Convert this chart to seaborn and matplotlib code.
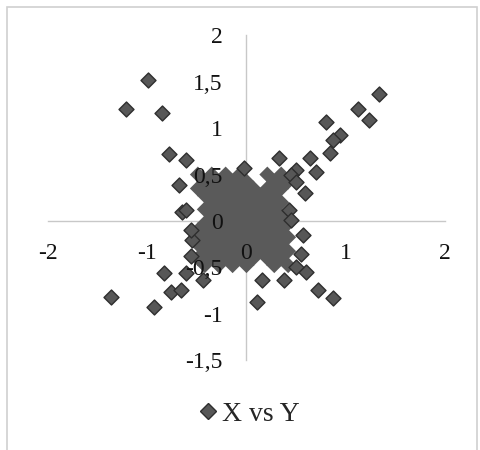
import pandas as pd
import seaborn as sns
import matplotlib.pyplot as plt
from matplotlib.patches import Rectangle
from matplotlib.lines import Line2D

# -----------------------------
# Data
# -----------------------------
# scattered points around the central blob
outer_x = [-0.99, -1.21, -0.85, -0.78, -0.61, -0.68, -0.65, -0.61,
           1.34, 1.12, 1.23, 0.80, 0.94, 0.87, 0.84, 0.64, 0.70, 0.59, 0.43,
           0.33, -0.02, 0.50, 0.45, 0.50,
           0.57, 0.55, 0.60, 0.72, 0.87, 0.16, 0.38, 0.11, 0.45, 0.50,
           -0.83, -0.61, -0.76, -0.66, -0.93, -1.37, -0.44, -0.55, -0.56, -0.56]
outer_y = [1.52, 1.21, 1.16, 0.72, 0.66, 0.39, 0.10, 0.12,
           1.37, 1.21, 1.09, 1.07, 0.92, 0.87, 0.73, 0.68, 0.53, 0.30, 0.12,
           0.68, 0.57, 0.55, 0.50, 0.42,
           -0.15, -0.35, -0.55, -0.74, -0.83, -0.63, -0.63, -0.87, 0.01, -0.49,
           -0.56, -0.56, -0.76, -0.74, -0.92, -0.82, -0.63, -0.20, -0.10, -0.38]

# dense cloud in the middle, row by row
blob_x = [-0.49, -0.35, -0.21, -0.07, 0.21, 0.35,                 # y 0.50
          -0.42, -0.28, -0.14, 0.00, 0.28, 0.42,                  # y 0.425
          -0.49, -0.35, -0.21, -0.07, 0.07, 0.21, 0.35,           # y 0.35
          -0.42, -0.28, -0.14, 0.00, 0.14, 0.28,                  # y 0.275
          -0.35, -0.21, -0.07, 0.07, 0.21, 0.35,                  # y 0.20
          -0.42, -0.28, -0.14, 0.00, 0.14, 0.28,                  # y 0.125
          -0.35, -0.21, -0.07, 0.07, 0.21, 0.35,                  # y 0.05
          -0.42, -0.28, -0.14, 0.00, 0.14, 0.28, 0.42,            # y -0.025
          -0.49, -0.35, -0.21, -0.07, 0.07, 0.21, 0.35,           # y -0.10
          -0.42, -0.28, -0.14, 0.00, 0.14, 0.28, 0.42,            # y -0.175
          -0.49, -0.35, -0.21, -0.07, 0.07, 0.21, 0.35,           # y -0.25
          -0.42, -0.28, -0.14, 0.00, 0.14, 0.28, 0.42,            # y -0.325
          -0.49, -0.35, -0.21, -0.07, 0.07, 0.21, 0.35,           # y -0.40
          -0.42, -0.28, -0.14, 0.00, 0.28, 0.42]                  # y -0.475
blob_y = ([0.50] * 6 + [0.425] * 6 + [0.35] * 7 + [0.275] * 6 +
          [0.20] * 6 + [0.125] * 6 + [0.05] * 6 + [-0.025] * 7 +
          [-0.10] * 7 + [-0.175] * 7 + [-0.25] * 7 + [-0.325] * 7 +
          [-0.40] * 7 + [-0.475] * 6)

x_ticks = [-2, -1, 0, 1, 2]
x_labels = ['-2', '-1', '0', '1', '2']
y_ticks = [-1.5, -1, -0.5, 0, 0.5, 1, 1.5, 2]
y_labels = ['-1,5', '-1', '-0,5', '0', '0,5', '1', '1,5', '2']

outer = pd.DataFrame({'X': outer_x, 'Y': outer_y})
blob = pd.DataFrame({'X': blob_x, 'Y': blob_y})

# -----------------------------
# Styling
# -----------------------------
sns.set_style("white")
plt.rcParams['font.family'] = ['Liberation Serif', 'DejaVu Serif']

fig = plt.figure(figsize=(4.8, 4.5), dpi=100)
ax = fig.add_axes([0.1, 0.199, 0.827, 0.723])

marker_face = '#575757'
marker_edge = '#2e2e2e'
# the overlapping cloud reads as one flat grey shape, so no edges there
sns.scatterplot(data=blob, x='X', y='Y', marker='D', s=66,
                color='#5a5a5a', edgecolor='none', linewidth=0,
                ax=ax, legend=False, zorder=2)
sns.scatterplot(data=outer, x='X', y='Y', marker='D', s=58,
                color=marker_face, edgecolor=marker_edge, linewidth=1.0,
                ax=ax, legend=False, zorder=2)

ax.set_xlim(-2, 2)
ax.set_ylim(-1.5, 2)
ax.set_xticks(x_ticks)
ax.set_xticklabels(x_labels)
ax.set_yticks(y_ticks)
ax.set_yticklabels(y_labels)
ax.set_xlabel('')
ax.set_ylabel('')
ax.set_axisbelow(False)  # tick labels are drawn over the markers

# axes crossing at the origin, Excel style
for side in ['top', 'right']:
    ax.spines[side].set_visible(False)
ax.spines['left'].set_position(('data', 0))
ax.spines['bottom'].set_position(('data', 0))
for side in ['left', 'bottom']:
    ax.spines[side].set_color('#c8c8c8')
    ax.spines[side].set_linewidth(1.0)
    ax.spines[side].set_zorder(1)
ax.tick_params(axis='x', length=0, pad=16, labelsize=17, colors='#111111')
ax.tick_params(axis='y', length=0, pad=17, labelsize=17, colors='#111111')

# legend under the plot
handle = Line2D([], [], marker='D', linestyle='', markersize=8,
                markerfacecolor=marker_face, markeredgecolor=marker_edge,
                markeredgewidth=1.0)
fig.legend([handle], ['X vs Y'], loc='center', bbox_to_anchor=(0.515, 0.08),
           frameon=False, fontsize=20, handletextpad=0.0, handlelength=1.0)

# chart area border
fig.patches.append(Rectangle((0.015, -0.1), 0.979, 1.085,
                             transform=fig.transFigure, fill=False,
                             edgecolor='#d0d0d0', linewidth=1.2))

plt.savefig('out.png', dpi=100)
plt.close()
